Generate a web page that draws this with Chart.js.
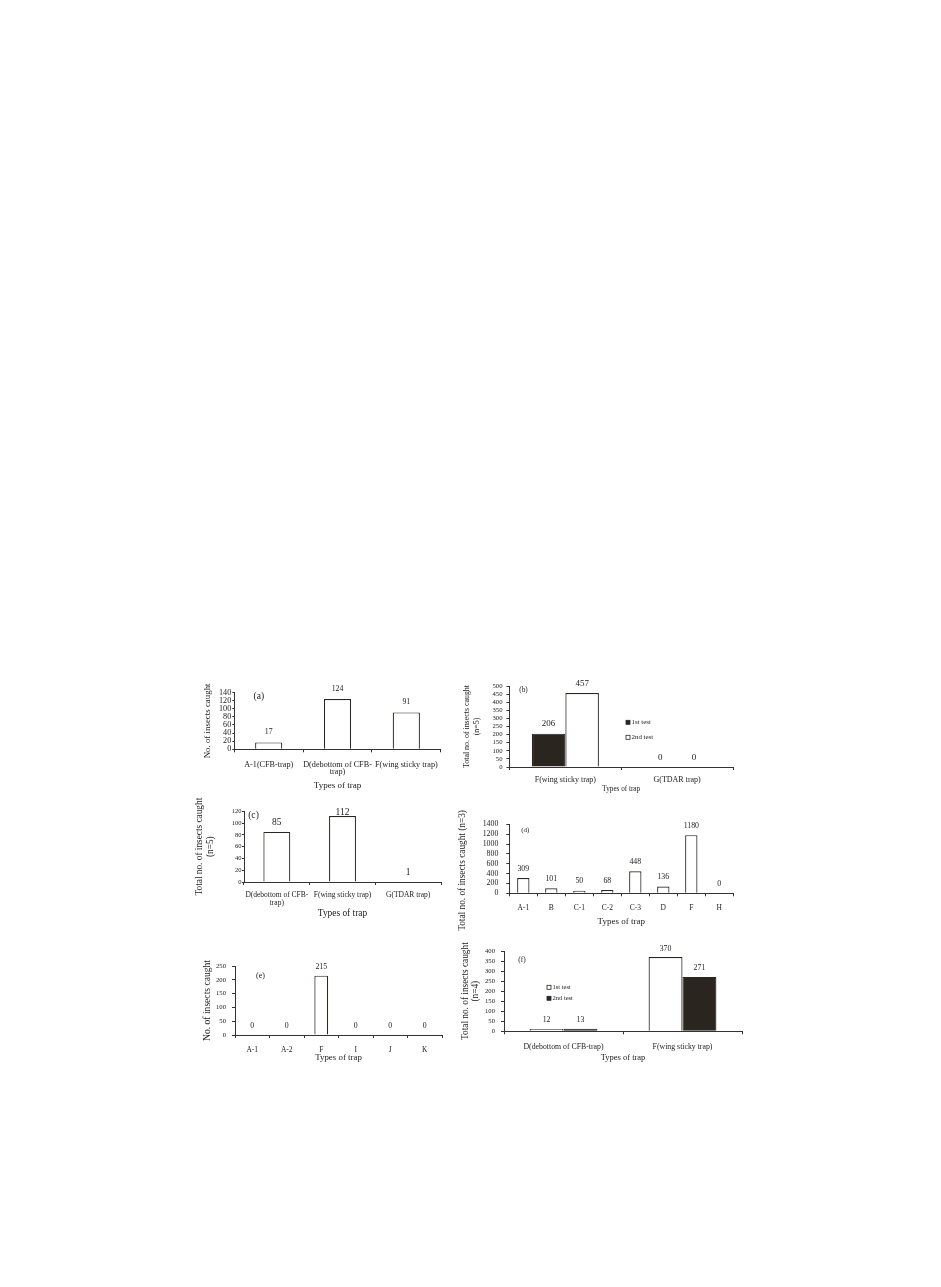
<!DOCTYPE html>
<html>
<head>
<meta charset="utf-8">
<script src="https://cdn.jsdelivr.net/npm/chart.js@4.4.1/dist/chart.umd.min.js"></script>
<style>
  body { margin: 0; background: #fff; }
  #page { position: relative; width: 941px; height: 1287px; overflow: hidden; }
  canvas { position: absolute; }
</style>
</head>
<body>
<div id="page"></div>
<script>
// ---- data ----
const seriesNames = ['1st test', '2nd test'];

const catsA = ['A-1(CFB-trap)', ['D(debottom of CFB-', 'trap)'], 'F(wing sticky trap)'];
const valsA = [17, 124, 91];
const ticksA = [0, 20, 40, 60, 80, 100, 120, 140];

const catsB = ['F(wing sticky trap)', 'G(TDAR trap)'];
const firstB = [206, 0];
const secondB = [457, 0];
const ticksB = [0, 50, 100, 150, 200, 250, 300, 350, 400, 450, 500];

const catsC = [['D(debottom of CFB-', 'trap)'], 'F(wing sticky trap)', 'G(TDAR trap)'];
const valsC = [85, 112, 1];
const ticksC = [0, 20, 40, 60, 80, 100, 120];

const catsD = ['A-1', 'B', 'C-1', 'C-2', 'C-3', 'D', 'F', 'H'];
const valsD = [309, 101, 50, 68, 448, 136, 1180, 0];
const ticksD = [0, 200, 400, 600, 800, 1000, 1200, 1400];

const catsE = ['A-1', 'A-2', 'F', 'I', 'J', 'K'];
const valsE = [0, 0, 215, 0, 0, 0];
const ticksE = [0, 50, 100, 150, 200, 250];

const catsF = ['D(debottom of CFB-trap)', 'F(wing sticky trap)'];
const firstF = [12, 370];
const secondF = [13, 271];
const ticksF = [0, 50, 100, 150, 200, 250, 300, 350, 400];

// ---- look ----
const ink = '#222';
const axisCol = '#333';
const dark = '#2b2520';
const serif = '"Liberation Serif", "Times New Roman", serif';

Chart.defaults.font.family = serif;
Chart.defaults.color = ink;

// value labels, panel letter and in-plot legend
Chart.register({
  id: 'extras',
  afterDatasetsDraw(chart, args, o) {
    const ctx = chart.ctx, area = chart.chartArea;
    ctx.save();
    ctx.fillStyle = ink;
    ctx.textAlign = 'center';
    ctx.textBaseline = 'middle';
    ctx.font = o.valueSize + 'px ' + serif;
    chart.data.datasets.forEach((ds, i) => {
      chart.getDatasetMeta(i).data.forEach((bar, j) => {
        let y = bar.y - o.valueGap;
        if (o.clampTop) y = Math.max(y, area.top + 1.5);
        ctx.fillText(String(ds.data[j]), bar.x, y);
      });
    });
    ctx.font = o.letterSize + 'px ' + serif;
    ctx.fillText(o.letter, area.left + o.letterAt[0], area.top + o.letterAt[1]);
    if (o.legendAt) {
      ctx.font = o.legendSize + 'px ' + serif;
      ctx.textAlign = 'left';
      chart.data.datasets.forEach((ds, i) => {
        const x = area.left + o.legendAt[0];
        const y = area.top + o.legendAt[1] + i * o.legendGap;
        ctx.fillStyle = ds.backgroundColor;
        ctx.fillRect(x - 2, y - 2, 4, 4);
        ctx.strokeStyle = dark;
        ctx.lineWidth = 0.8;
        ctx.strokeRect(x - 2, y - 2, 4, 4);
        ctx.fillStyle = ink;
        ctx.fillText(ds.label, x + 3.5, y);
      });
    }
    ctx.restore();
  }
});

function bars(label, data, fill) {
  return {
    label: label, data: data,
    backgroundColor: fill, borderColor: dark, borderWidth: 1.2,
    barPercentage: 1
  };
}

function panel(box, o) {
  const padB = o.xTitlePadB || 0;
  const left = Math.round(o.yTitleX - o.yTitleSize * o.yTitleLh / 2);
  const top = Math.round(box.t - (o.topRoom || 16));
  const right = box.r + 6;
  const bottom = o.xTitleY + o.xTitleSize * 0.6 + padB;
  const w = Math.round(right - left), h = Math.round(bottom - top);
  const yw = box.l - left;
  const xh = top + h - box.b;

  const c = document.createElement('canvas');
  c.width = w; c.height = h;
  c.style.left = left + 'px'; c.style.top = top + 'px';
  c.style.width = w + 'px'; c.style.height = h + 'px';
  document.getElementById('page').appendChild(c);

  o.sets.forEach(s => { s.categoryPercentage = o.catPct; });

  new Chart(c, {
    type: 'bar',
    data: { labels: o.cats, datasets: o.sets },
    options: {
      responsive: false,
      animation: false,
      layout: { padding: { left: 0, top: box.t - top, right: left + w - box.r, bottom: 0 } },
      plugins: {
        legend: { display: false },
        tooltip: { enabled: false },
        extras: o.extras
      },
      scales: {
        x: {
          afterFit: s => { s.height = xh; },
          grid: { drawOnChartArea: false, tickLength: 3, color: axisCol, lineWidth: 1 },
          border: { color: axisCol, width: 1 },
          ticks: {
            color: ink, maxRotation: 0, autoSkip: false, padding: o.xPad,
            font: { size: o.xSize, lineHeight: o.xLh }
          },
          title: {
            display: true, text: 'Types of trap', color: ink, padding: { top: 0, bottom: padB },
            font: { size: o.xTitleSize, lineHeight: 1.2 }
          }
        },
        y: {
          min: o.ticks[0], max: o.ticks[o.ticks.length - 1],
          afterFit: s => { s.width = yw; },
          afterBuildTicks: s => { s.ticks = o.ticks.map(v => ({ value: v })); },
          grid: { drawOnChartArea: false, tickLength: o.yTick, color: axisCol, lineWidth: 1 },
          border: { color: axisCol, width: 1 },
          ticks: {
            color: ink, padding: o.yPad, autoSkip: false, callback: v => String(v),
            font: { size: o.ySize }
          },
          title: {
            display: true, text: o.yTitle, color: ink, padding: 0,
            font: { size: o.yTitleSize, lineHeight: o.yTitleLh }
          }
        }
      }
    }
  });
}

// (a)
panel({ l: 234.3, t: 692.5, r: 442, b: 749.3 }, {
  cats: catsA, ticks: ticksA, catPct: 0.395,
  sets: [bars('values', valsA, '#fff')],
  yTitle: 'No. of insects caught', yTitleX: 207, yTitleSize: 8.9, yTitleLh: 1.2,
  ySize: 8.2, yTick: 2, yPad: 1,
  xSize: 8.2, xLh: 0.82, xPad: 9.3, xTitleSize: 9, xTitleY: 786,
  extras: { valueSize: 7.8, valueGap: 10, letter: '(a)', letterSize: 9.5, letterAt: [24.5, 4] }
});

// (b)
panel({ l: 509.5, t: 686, r: 733, b: 767 }, {
  cats: catsB, ticks: ticksB, catPct: 0.6,
  sets: [bars(seriesNames[0], firstB, dark), bars(seriesNames[1], secondB, '#fff')],
  yTitle: ['Total no. of insects caught', '(n=5)'], yTitleX: 467.5, yTitleSize: 7.9, yTitleLh: 1.27,
  ySize: 6.7, yTick: 3, yPad: 4,
  xSize: 8, xLh: 1.2, xPad: 5.2, xTitleSize: 7.2, xTitleY: 788.3,
  extras: { valueSize: 9, valueGap: 9.5, letter: '(b)', letterSize: 7.2, letterAt: [14, 4],
            legendAt: [118.5, 36.3], legendGap: 15, legendSize: 6.9 }
});

// (c)
panel({ l: 244, t: 811.3, r: 441, b: 882 }, {
  cats: catsC, ticks: ticksC, catPct: 0.41,
  sets: [bars('values', valsC, '#fff')],
  yTitle: ['Total no. of insects caught', '(n=5)'], yTitleX: 200.5, yTitleSize: 9.3, yTitleLh: 1.08,
  ySize: 6.5, yTick: 2, yPad: 0.5,
  xSize: 7.5, xLh: 1.1, xPad: 5.9, xTitleSize: 9.4, xTitleY: 913.3,
  extras: { valueSize: 9.5, valueGap: 9, clampTop: true, letter: '(c)', letterSize: 9.6, letterAt: [9.5, 4] }
});

// (d) -- trailing spaces push the long rotated title a little lower, as in the original
panel({ l: 509.3, t: 824.3, r: 733.3, b: 893.3 }, {
  cats: catsD, ticks: ticksD, catPct: 0.44, topRoom: 20, xTitlePadB: 8,
  sets: [bars('values', valsD, '#fff')],
  yTitle: 'Total no. of insects caught (n=3)' + '\u00a0'.repeat(10), yTitleX: 463, yTitleSize: 9.3, yTitleLh: 1.2,
  ySize: 7.8, yTick: 3, yPad: 8,
  xSize: 7.5, xLh: 1.2, xPad: 7.5, xTitleSize: 9, xTitleY: 921.7,
  extras: { valueSize: 7.8, valueGap: 9.5, letter: '(d)', letterSize: 7, letterAt: [16, 5.7] }
});

// (e)
panel({ l: 235, t: 966, r: 442, b: 1035 }, {
  cats: catsE, ticks: ticksE, catPct: 0.4,
  sets: [bars('values', valsE, '#fff')],
  yTitle: 'No. of insects caught', yTitleX: 208, yTitleSize: 9.6, yTitleLh: 1.2,
  ySize: 6.7, yTick: 3, yPad: 6,
  xSize: 7.5, xLh: 1.2, xPad: 7.5, xTitleSize: 8.9, xTitleY: 1057.7,
  extras: { valueSize: 7.8, valueGap: 9.2, letter: '(e)', letterSize: 8, letterAt: [25.5, 9.7] }
});

// (f)
panel({ l: 504, t: 951, r: 742, b: 1031.3 }, {
  cats: catsF, ticks: ticksF, catPct: 0.57,
  sets: [bars(seriesNames[0], firstF, '#fff'), bars(seriesNames[1], secondF, dark)],
  yTitle: ['Total no. of insects caught', '(n=4)'], yTitleX: 465.5, yTitleSize: 9.3, yTitleLh: 1.13,
  ySize: 6.7, yTick: 3, yPad: 6,
  xSize: 7.8, xLh: 1.2, xPad: 7.7, xTitleSize: 8.5, xTitleY: 1058.3,
  extras: { valueSize: 7.8, valueGap: 8.5, letter: '(f)', letterSize: 7.3, letterAt: [18, 9],
            legendAt: [45, 36.3], legendGap: 11, legendSize: 6.5 }
});
</script>
</body>
</html>
